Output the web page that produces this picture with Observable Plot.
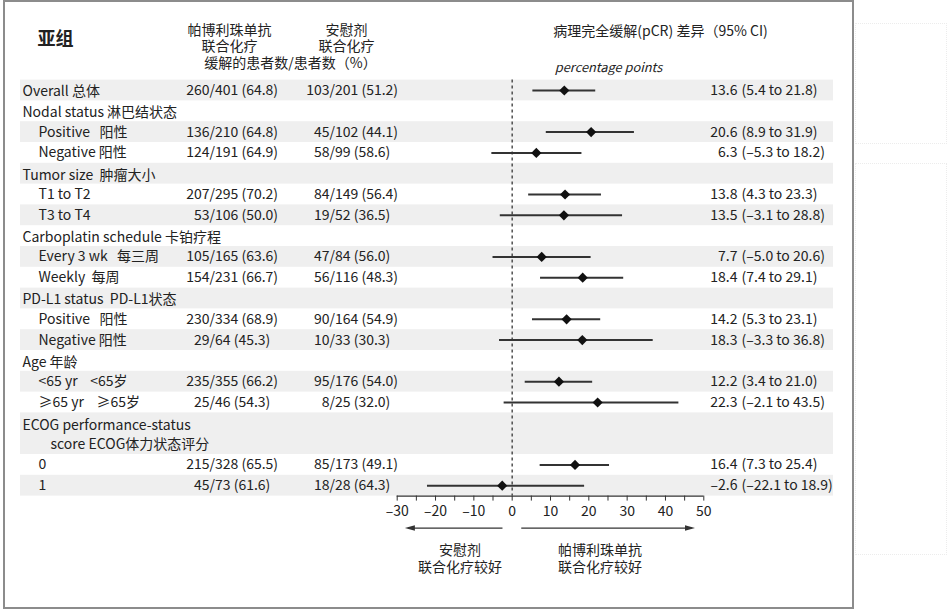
<!DOCTYPE html>
<html><head><meta charset="utf-8">
<script src="https://cdn.jsdelivr.net/npm/d3@7"></script>
<script src="https://cdn.jsdelivr.net/npm/@observablehq/plot@0.6"></script>
<style>
body{margin:0;background:#fff;font-family:"Noto Sans CJK SC","Noto Sans",sans-serif;}
#wrap{position:relative;width:947px;height:611px;overflow:hidden;}
#chart{position:absolute;left:0;top:0;}
#frame{position:absolute;left:3px;top:0;width:847px;height:605px;border:2px solid #8c8c8c;pointer-events:none;}
.ghost{position:absolute;border:1px dotted #ececec;}
svg text{white-space:pre;}
</style></head><body>
<div id="wrap"><div id="chart"></div><div id="frame"></div>
<div class="ghost" style="left:855px;top:23px;width:90px;height:119px"></div>
<div class="ghost" style="left:855px;top:163px;width:90px;height:390px"></div>
</div>
<script>
// ---- data ----
const labels = [
  "Overall 总体",
  "Nodal status 淋巴结状态",
  "Positive   阳性",
  "Negative 阳性",
  "Tumor size  肿瘤大小",
  "T1 to T2",
  "T3 to T4",
  "Carboplatin schedule 卡铂疗程",
  "Every 3 wk   每三周",
  "Weekly  每周",
  "PD-L1 status  PD-L1状态",
  "Positive   阳性",
  "Negative 阳性",
  "Age 年龄",
  "<65 yr    <65岁",
  "≥65 yr    ≥65岁",
  "ECOG performance-status\n\u2003\u2003score ECOG体力状态评分",
  "0",
  "1"
];
const levels = [0,0,1,1,0,1,1,0,1,1,0,1,1,0,1,1,0,1,1];
const pembroResp = [260,null,136,124,null,207,53,null,105,154,null,230,29,null,235,25,null,215,45];
const pembroN    = [401,null,210,191,null,295,106,null,165,231,null,334,64,null,355,46,null,328,73];
const pembroPct  = [64.8,null,64.8,64.9,null,70.2,50.0,null,63.6,66.7,null,68.9,45.3,null,66.2,54.3,null,65.5,61.6];
const placeboResp = [103,null,45,58,null,84,19,null,47,56,null,90,10,null,95,8,null,85,18];
const placeboN    = [201,null,102,99,null,149,52,null,84,116,null,164,33,null,176,25,null,173,28];
const placeboPct  = [51.2,null,44.1,58.6,null,56.4,36.5,null,56.0,48.3,null,54.9,30.3,null,54.0,32.0,null,49.1,64.3];
const diffEst = [13.6,null,20.6,6.3,null,13.8,13.5,null,7.7,18.4,null,14.2,18.3,null,12.2,22.3,null,16.4,-2.6];
const diffLo  = [5.4,null,8.9,-5.3,null,4.3,-3.1,null,-5.0,7.4,null,5.3,-3.3,null,3.4,-2.1,null,7.3,-22.1];
const diffHi  = [21.8,null,31.9,18.2,null,23.3,28.8,null,20.6,29.1,null,23.1,36.8,null,21.0,43.5,null,25.4,18.9];
const xTicks = [-30,-25,-20,-15,-10,-5,0,5,10,15,20,25,30,35,40,45,50];
const headers = {
  subgroup: "亚组",
  pembro: "帕博利珠单抗\n联合化疗",
  placebo: "安慰剂\n联合化疗",
  counts: "缓解的患者数/患者数（%）",
  diff: "病理完全缓解(pCR) 差异（95% CI)",
  unit: "percentage points",
  favLeft: "安慰剂\n联合化疗较好",
  favRight: "帕博利珠单抗\n联合化疗较好"
};

// ---- layout helpers ----
const dash = s => s.replace("-", "–");
const f1 = v => dash(v.toFixed(1));
const span = labels.map(l => l.includes("\n") ? 2 : 1);
let acc = 0;
const slot = span.map(s => { const c = acc + (s - 1) / 2; acc += s; return c; });
const last = acc - 1;
const rows = labels.map((label, i) => ({
  i, label, level: levels[i], slot: slot[i], span: span[i],
  pr: pembroResp[i], pn: pembroN[i], pp: pembroPct[i],
  qr: placeboResp[i], qn: placeboN[i], qp: placeboPct[i],
  est: diffEst[i], lo: diffLo[i], hi: diffHi[i]
}));
const dataRows = rows.filter(d => d.est != null);
const W = 947, H = 611, y0 = 90, rowH = 20.8;
const axisSlot = last + 0.5;
const axisPx = y0 + axisSlot * rowH;
const ink = "#222";
const FS = 14;

const arrowHead = {
  draw(ctx, size) {
    const r = Math.sqrt(size / Math.PI);
    ctx.moveTo(0, 0);
    ctx.lineTo(-2 * r, -0.55 * r);
    ctx.lineTo(-2 * r, 0.55 * r);
    ctx.closePath();
  }
};
const hdr = (t, dx, dy, o = {}) => Plot.text([t], {text: d => d, frameAnchor: "top-left", lineAnchor: "middle", dx, dy, textAnchor: "middle", fontSize: FS, lineHeight: 1.18, fill: ink, ...o});

const chart = Plot.plot({
  width: W, height: H,
  marginLeft: 20, marginRight: W - 833, marginTop: 0, marginBottom: H - axisPx,
  style: {fontFamily: '"Noto Sans CJK SC", "Noto Sans", sans-serif', fontSize: FS + "px", color: ink, background: "transparent"},
  x: {type: "linear", domain: [-30, 50], range: [396.7, 703.3], axis: null},
  y: {type: "linear", domain: [0, last], range: [y0, y0 + last * rowH], axis: null},
  marks: [
    // alternating bands
    Plot.rect(rows.filter(d => d.i % 2 === 0), {y1: d => d.slot - d.span / 2, y2: d => d.slot + d.span / 2, fill: "#efefef"}),
    // zero reference
    Plot.ruleX([0], {y1: -0.5, y2: axisSlot, stroke: "#444", strokeWidth: 1.4, strokeDasharray: "3,3"}),
    // CI + estimate
    Plot.ruleY(dataRows, {y: "slot", x1: "lo", x2: "hi", stroke: "#333", strokeWidth: 2}),
    Plot.dot(dataRows, {x: "est", y: "slot", symbol: "diamond2", r: 4.6, fill: "#111", stroke: "none"}),
    // labels
    Plot.text(rows.filter(d => d.level === 0), {y: "slot", text: "label", frameAnchor: "left", dx: 2, textAnchor: "start", fill: ink, fontSize: FS, lineHeight: 1.3}),
    Plot.text(rows.filter(d => d.level === 1), {y: "slot", text: "label", frameAnchor: "left", dx: 18, textAnchor: "start", fill: ink, fontSize: FS}),
    // pembro column (slash aligned)
    Plot.text(dataRows, {y: "slot", text: d => String(d.pr), frameAnchor: "left", dx: 189, textAnchor: "end", fill: ink, fontSize: FS}),
    Plot.text(dataRows, {y: "slot", text: d => `/${d.pn} (${d.pp.toFixed(1)})`, frameAnchor: "left", dx: 189, textAnchor: "start", fill: ink, fontSize: FS}),
    // placebo column
    Plot.text(dataRows, {y: "slot", text: d => String(d.qr), frameAnchor: "left", dx: 309, textAnchor: "end", fill: ink, fontSize: FS}),
    Plot.text(dataRows, {y: "slot", text: d => `/${d.qn} (${d.qp.toFixed(1)})`, frameAnchor: "left", dx: 309, textAnchor: "start", fill: ink, fontSize: FS}),
    // difference column
    Plot.text(dataRows, {y: "slot", text: d => f1(d.est), frameAnchor: "right", dx: -96, textAnchor: "end", fill: ink, fontSize: FS}),
    Plot.text(dataRows, {y: "slot", text: d => `(${f1(d.lo)} to ${f1(d.hi)})`, frameAnchor: "right", dx: -92, textAnchor: "start", fill: ink, fontSize: FS}),
    // headers
    hdr(headers.subgroup, 17, 38, {textAnchor: "start", fontSize: 18, fontWeight: "bold"}),
    hdr(headers.pembro, 209, 37),
    hdr(headers.placebo, 326, 37),
    hdr(headers.counts, 270, 62),
    hdr(headers.diff, 640, 30),
    hdr(headers.unit, 588, 67, {fontStyle: "italic", fontSize: 12.8}),
    // axis
    Plot.ruleY([axisSlot], {x1: xTicks[0], x2: xTicks[xTicks.length - 1], stroke: "#333", strokeWidth: 1.3}),
    Plot.axisX({ticks: xTicks, tickSize: 5, tickPadding: 5, stroke: "#333", fontSize: FS, fill: ink,
      tickFormat: d => d % 10 === 0 ? dash(String(d)) : ""}),
    // favour arrows
    Plot.ruleY([axisSlot], {x1: -2.4, x2: -27, dy: 32, stroke: "#333", strokeWidth: 1.4}),
    Plot.ruleY([axisSlot], {x1: 2.5, x2: 47, dy: 32, stroke: "#333", strokeWidth: 1.4}),
    Plot.dot([axisSlot], {y: d => d, x: -28, dy: 32, symbol: arrowHead, r: 5, rotate: 180, fill: "#333", stroke: "none"}),
    Plot.dot([axisSlot], {y: d => d, x: 47.7, dy: 32, symbol: arrowHead, r: 5, fill: "#333", stroke: "none"}),
    Plot.text([headers.favLeft], {y: () => axisSlot, x: -13.6, dy: 62, text: d => d, textAnchor: "middle", fontSize: FS, lineHeight: 1.18, fill: ink}),
    Plot.text([headers.favRight], {y: () => axisSlot, x: 22.9, dy: 62, text: d => d, textAnchor: "middle", fontSize: FS, lineHeight: 1.18, fill: ink})
  ]
});
document.getElementById("chart").append(chart);
</script>
</body></html>
